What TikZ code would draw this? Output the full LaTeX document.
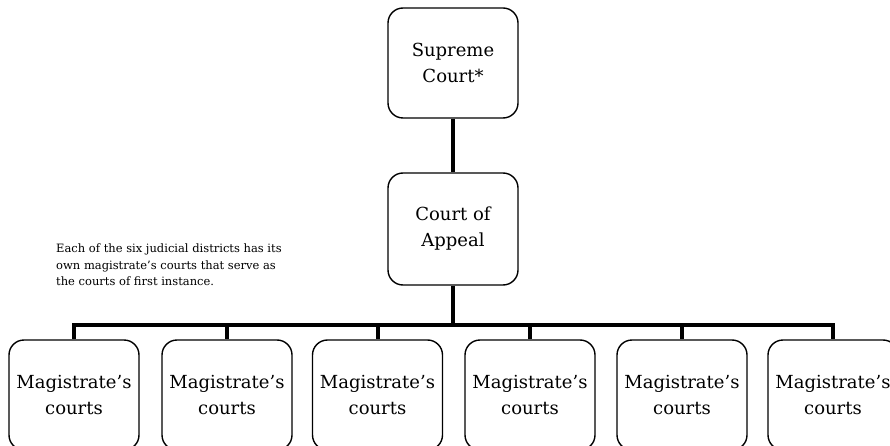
\documentclass[tikz,border=0pt]{standalone}
\usepackage{fontspec}
\setmainfont{DejaVu Serif}
\begin{document}
\begin{tikzpicture}[x=1pt,y=-1pt,
  court/.style={draw, line width=1.4pt, rounded corners=15pt, minimum width=130pt,
    minimum height=110pt, align=center, inner sep=0pt,
    font=\fontsize{18}{26}\selectfont},
  link/.style={line width=4pt, line join=miter}]
\useasboundingbox (0,0) rectangle (890,446);
\clip (0,0) rectangle (890,446);
\node[court] (sc) at (453,63) {Supreme\\Court*};
\node[court, minimum height=112pt] (ca) at (453,229) {Court of\\Appeal};
\node[court] (m1) at (74,395) {Magistrate's\\courts};
\node[court] (m2) at (227,395) {Magistrate's\\courts};
\node[court] (m3) at (377.5,395) {Magistrate's\\courts};
\node[court] (m4) at (530,395) {Magistrate's\\courts};
\node[court] (m5) at (682,395) {Magistrate's\\courts};
\node[court] (m6) at (833,395) {Magistrate's\\courts};
\coordinate (bus) at (453,325);
\draw[link] (sc.south) -- (ca.north);
\draw[link] (ca.south) -- (bus);
\foreach \m in {m1,m2,m3,m4,m5,m6}{
  \draw[link] (bus) -| (\m.north);
}
\node[anchor=north west, align=left, inner sep=0pt,
  font=\fontsize{11.5}{16.5}\selectfont] (note) at (56,244)
  {Each of the six judicial districts has its\\own magistrate's courts that serve as\\the courts of first instance.};
\end{tikzpicture}
\end{document}
